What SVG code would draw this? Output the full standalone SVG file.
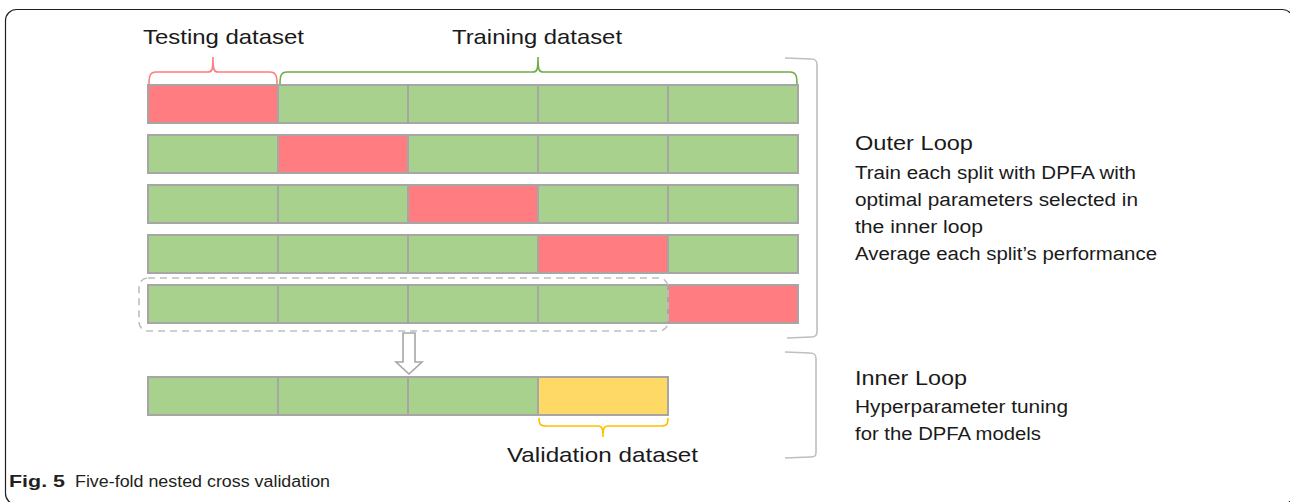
<svg xmlns="http://www.w3.org/2000/svg" width="1290" height="502" viewBox="0 0 1290 502">
  <style>
    .txt { font-family: "Liberation Sans", Arial, sans-serif; fill: #1a1a1a; }
    .lbl { font-size: 21px; }
    .head { font-size: 20px; }
    .body { font-size: 18px; }
    .cap { font-family: "Liberation Sans", Arial, sans-serif; font-size: 16px; fill: #231f20; }
    .cell { stroke: #a6a6a6; stroke-width: 2; }
    .g { fill: #a9d18e; }
    .r { fill: #ff7c80; }
    .y { fill: #ffd966; }
    .brace { fill: none; stroke-width: 1.6; }
    .side { fill: none; stroke: #bfbfbf; stroke-width: 1.6; }
  </style>

  <!-- figure frame (right and bottom edges run past the canvas) -->
  <rect x="5.5" y="9.5" width="1288" height="495" rx="11" fill="#ffffff" stroke="#231f20" stroke-width="1.2"/>

  <!-- outer-loop splits: five rows of five folds -->
  <g id="split1">
    <rect class="cell r" x="148" y="85" width="130" height="38"/>
    <rect class="cell g" x="278" y="85" width="130" height="38"/>
    <rect class="cell g" x="408" y="85" width="130" height="38"/>
    <rect class="cell g" x="538" y="85" width="130" height="38"/>
    <rect class="cell g" x="668" y="85" width="130" height="38"/>
  </g>
  <g id="split2">
    <rect class="cell g" x="148" y="135" width="130" height="38"/>
    <rect class="cell r" x="278" y="135" width="130" height="38"/>
    <rect class="cell g" x="408" y="135" width="130" height="38"/>
    <rect class="cell g" x="538" y="135" width="130" height="38"/>
    <rect class="cell g" x="668" y="135" width="130" height="38"/>
  </g>
  <g id="split3">
    <rect class="cell g" x="148" y="185" width="130" height="38"/>
    <rect class="cell g" x="278" y="185" width="130" height="38"/>
    <rect class="cell r" x="408" y="185" width="130" height="38"/>
    <rect class="cell g" x="538" y="185" width="130" height="38"/>
    <rect class="cell g" x="668" y="185" width="130" height="38"/>
  </g>
  <g id="split4">
    <rect class="cell g" x="148" y="235" width="130" height="38"/>
    <rect class="cell g" x="278" y="235" width="130" height="38"/>
    <rect class="cell g" x="408" y="235" width="130" height="38"/>
    <rect class="cell r" x="538" y="235" width="130" height="38"/>
    <rect class="cell g" x="668" y="235" width="130" height="38"/>
  </g>
  <g id="split5">
    <rect class="cell g" x="148" y="285" width="130" height="38"/>
    <rect class="cell g" x="278" y="285" width="130" height="38"/>
    <rect class="cell g" x="408" y="285" width="130" height="38"/>
    <rect class="cell g" x="538" y="285" width="130" height="38"/>
    <rect class="cell r" x="668" y="285" width="130" height="38"/>
  </g>

  <!-- inner-loop split -->
  <g id="inner-split">
    <rect class="cell g" x="148" y="377" width="130" height="38"/>
    <rect class="cell g" x="278" y="377" width="130" height="38"/>
    <rect class="cell g" x="408" y="377" width="130" height="38"/>
    <rect class="cell y" x="538" y="377" width="130" height="38"/>
  </g>

  <g id="connectors">
    <!-- training part of the last split taken into the inner loop -->
    <rect x="139" y="278" width="529" height="53" rx="9" fill="none" stroke="#bfbfbf" stroke-width="1.6" stroke-dasharray="7 5"/>
    <polygon points="403,333 415,333 415,362 422,362 409,374 396,362 403,362" fill="#ffffff" stroke="#a6a6a6" stroke-width="1.6"/>

    <!-- braces -->
    <path class="brace" stroke="#ff7c80" d="M149,84 C149,76 150,72 156,72 L208,72 C212,72 213,70 213,57 C213,70 214,72 218,72 L270,72 C276,72 277,76 277,84"/>
    <path class="brace" stroke="#70ad47" d="M280,84 C280,76 281,72 287,72 L533,72 C537,72 538,70 538,57 C538,70 539,72 543,72 L790,72 C796,72 797,76 797,84"/>
    <path class="brace" stroke="#ffc000" d="M539,418 C539,424 540,426 546,426 L598,426 C602,426 603,428 603,437 C603,428 604,426 608,426 L661,426 C667,426 668,424 668,418"/>

    <!-- loop brackets -->
    <path class="side" d="M785,58 L811,59 C816,59 817,61 817,65 L817,332 C817,336 815,337 811,337 L787,338"/>
    <path class="side" d="M785,352 L810,353 C815,353 816,355 816,359 L816,452 C816,456 815,457 810,457 L785,458"/>
  </g>

  <!-- labels -->
  <g id="labels">
    <text class="txt lbl" x="143" y="44" textLength="161" lengthAdjust="spacingAndGlyphs">Testing dataset</text>
    <text class="txt lbl" x="452" y="44" textLength="170" lengthAdjust="spacingAndGlyphs">Training dataset</text>
    <text class="txt lbl" x="507" y="462" textLength="191" lengthAdjust="spacingAndGlyphs">Validation dataset</text>
  </g>

  <g id="outer-loop-note">
    <text class="txt head" x="855" y="150" textLength="118" lengthAdjust="spacingAndGlyphs">Outer Loop</text>
    <text class="txt body" x="855" y="179" textLength="281" lengthAdjust="spacingAndGlyphs">Train each split with DPFA with</text>
    <text class="txt body" x="855" y="206" textLength="283" lengthAdjust="spacingAndGlyphs">optimal parameters selected in</text>
    <text class="txt body" x="855" y="233" textLength="128" lengthAdjust="spacingAndGlyphs">the inner loop</text>
    <text class="txt body" x="855" y="260" textLength="302" lengthAdjust="spacingAndGlyphs">Average each split’s performance</text>
  </g>

  <g id="inner-loop-note">
    <text class="txt head" x="855" y="385" textLength="112" lengthAdjust="spacingAndGlyphs">Inner Loop</text>
    <text class="txt body" x="855" y="413" textLength="213" lengthAdjust="spacingAndGlyphs">Hyperparameter tuning</text>
    <text class="txt body" x="855" y="440" textLength="186" lengthAdjust="spacingAndGlyphs">for the DPFA models</text>
  </g>

  <!-- caption -->
  <text class="cap" x="9" y="487"><tspan font-weight="bold" font-size="17" textLength="56" lengthAdjust="spacingAndGlyphs">Fig. 5</tspan><tspan x="75" textLength="255" lengthAdjust="spacingAndGlyphs">Five-fold nested cross validation</tspan></text>
</svg>
